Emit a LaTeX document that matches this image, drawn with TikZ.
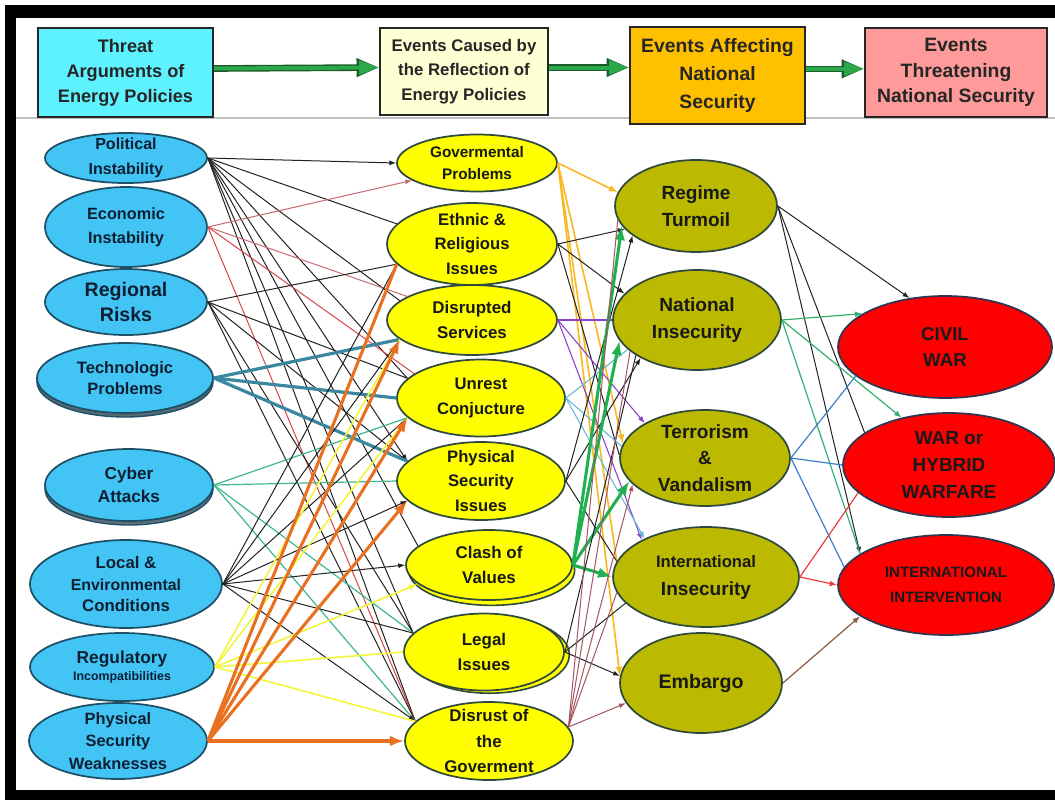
\documentclass[tikz,border=0pt]{standalone}
\usepackage{fontspec}
\setmainfont{Liberation Sans}
\usetikzlibrary{arrows.meta,shapes.geometric,backgrounds}
\definecolor{hcyan}{HTML}{5EF2FF}
\definecolor{hcream}{HTML}{FFFFD4}
\definecolor{horange}{HTML}{FFC000}
\definecolor{hpink}{HTML}{FF9A9A}
\definecolor{hgreen}{HTML}{2AA84A}
\definecolor{hdkgreen}{HTML}{1B5A2A}
\definecolor{lblue}{HTML}{42C5F4}
\definecolor{lrim}{HTML}{1D4F66}
\definecolor{ltext}{HTML}{0E1F33}
\definecolor{myellow}{HTML}{FFFF00}
\definecolor{mrim}{HTML}{2F4A3C}
\definecolor{folive}{HTML}{BCBA00}
\definecolor{fred}{HTML}{FF0000}
\definecolor{rrim}{HTML}{2E3550}
% connector colours
\definecolor{cblk}{HTML}{222222}
\definecolor{cred}{HTML}{D8424A}
\definecolor{cpink}{HTML}{C86A70}
\definecolor{cteal}{HTML}{3A87A0}
\definecolor{cmint}{HTML}{3DB88A}
\definecolor{cyel}{HTML}{F4F43A}
\definecolor{corg}{HTML}{E8701E}
\definecolor{cgold}{HTML}{F8B820}
\definecolor{cpurp}{HTML}{8A40C8}
\definecolor{csky}{HTML}{62B6D8}
\definecolor{cgrn}{HTML}{20B050}
\definecolor{cbrn}{HTML}{A45560}
\definecolor{csea}{HTML}{33B070}
\definecolor{cblu}{HTML}{3A80C8}
\definecolor{cscar}{HTML}{F03C3C}
\definecolor{cumb}{HTML}{8B5A3C}
\newcommand{\txtsize}[2]{\fontsize{#1}{#2}\selectfont\bfseries}
\tikzset{
  hdr/.style    = {draw=black!85, line width=1.2pt, rectangle, align=center,
                   inner sep=0pt, text=black!85},
  oval/.style   = {ellipse, line width=1.3pt, align=center,
                   inner xsep=0pt, inner ysep=-4pt},
  threat/.style = {oval, draw=lrim, fill=lblue, text=ltext},
  cause/.style  = {oval, draw=mrim, fill=myellow, text=black!90},
  affect/.style = {oval, draw=mrim, fill=folive, text=black!90},
  danger/.style = {oval, draw=rrim, fill=fred, text=black!90},
  harrow/.style = {line width=3pt, draw=hgreen,
                   -{Triangle[length=15pt,width=10pt]},
                   preaction={draw=hdkgreen, line width=5pt,
                              -{Triangle[length=17pt,width=13pt]}}},
  tip/.style    = {-{Latex[scale=0.8]}},
  blk/.style    = {draw=cblk, line width=0.75pt},
  redln/.style  = {draw=cred, line width=0.75pt},
  pinkln/.style = {draw=cpink, line width=0.75pt},
  tealln/.style = {draw=cteal, line width=2.4pt},
  mintln/.style = {draw=cmint, line width=0.9pt},
  yelln/.style  = {draw=cyel, line width=1.2pt},
  orgln/.style  = {draw=corg, line width=2.3pt},
  goldln/.style = {draw=cgold, line width=1.2pt},
  purpln/.style = {draw=cpurp, line width=0.8pt},
  skyln/.style  = {draw=csky, line width=0.8pt},
  grnln/.style  = {draw=cgrn, line width=2.3pt},
  brnln/.style  = {draw=cbrn, line width=0.75pt},
  sealn/.style  = {draw=csea, line width=0.9pt},
  bluln/.style  = {draw=cblu, line width=0.9pt},
  scarln/.style = {draw=cscar, line width=0.9pt},
  umbln/.style  = {draw=cumb, line width=0.9pt},
}
\begin{document}
\begin{tikzpicture}[x=0.75pt, y=-0.75pt]
\useasboundingbox (0,0) rectangle (1055,800);
% ---- frame ----
\fill[black] (5,5) rectangle (1055,18);
\fill[black] (5,5) rectangle (16,800);
\fill[black] (5,790) rectangle (1055,800);
\draw[gray!50, line width=0.8pt] (16,118) -- (1055,118);
% ---- header boxes ----
\node[hdr, fill=hcyan, minimum width=131.25pt, minimum height=66.75pt,
      font=\txtsize{13.6}{18.75}] (h1) at (125.5,72.5)
  {Threat\\Arguments of\\Energy Policies};
\node[hdr, fill=hcream, minimum width=126pt, minimum height=65.25pt,
      font=\txtsize{12.6}{18.5}] (h2) at (464,71.5)
  {Events Caused by\\the Reflection of\\Energy Policies};
\node[hdr, fill=horange, minimum width=131.25pt, minimum height=72.75pt,
      font=\txtsize{14.5}{21}] (h3) at (717.5,75.5)
  {Events Affecting\\National\\Security};
\node[hdr, fill=hpink, minimum width=136.5pt, minimum height=66.75pt,
      font=\txtsize{14.5}{19}] (h4) at (956,72.5)
  {Events\\Threatening\\National Security};
\draw[harrow] ([yshift=3pt]h1.east) -- ([yshift=3pt]h2.west);
\draw[harrow] ([yshift=3pt]h2.east) -- ([yshift=3pt]h2.east -| h3.west);
\draw[harrow] ([yshift=5pt]h3.east) -- ([yshift=5pt]h3.east -| h4.west);
% ---- threat arguments ----
\node[threat, minimum width=121.5pt, minimum height=37.5pt,
      font=\txtsize{12}{18.5}] (pol) at (126,158) {Political\\Instability};
\node[threat, minimum width=121.5pt, minimum height=60pt,
      font=\txtsize{12.2}{18}] (eco) at (126,227) {Economic\\Instability};
\node[threat, minimum width=121.5pt, minimum height=49.5pt,
      font=\txtsize{14.7}{18.75}] (reg) at (126,302) {Regional\\Risks};
\node[threat, minimum width=132pt, minimum height=52.5pt,
      font=\txtsize{12.4}{16}] (tec) at (125,378) {Technologic\\Problems};
\node[threat, minimum width=126pt, minimum height=54pt,
      font=\txtsize{12.9}{17}] (cyb) at (129,485) {Cyber\\Attacks};
\node[threat, minimum width=144pt, minimum height=66pt,
      font=\txtsize{12.6}{16}] (loc) at (126,584)
  {Local \&\\{\txtsize{11.9}{16}Environmental}\\Conditions};
\node[threat, minimum width=138pt, minimum height=51pt,
      font=\txtsize{13}{15}] (rgl) at (122,667)
  {Regulatory\\[-2pt]{\txtsize{9.3}{12}Incompatibilities}};
\node[threat, minimum width=133.5pt, minimum height=57pt,
      font=\txtsize{12.3}{17}] (phw) at (118,741)
  {Physical\\Security\\Weaknesses};
% ---- events caused ----
\node[cause, minimum width=120pt, minimum height=42.75pt,
      font=\txtsize{11.5}{17}] (gov) at (477,163) {Govermental\\Problems};
\node[cause, minimum width=127.5pt, minimum height=61.5pt,
      font=\txtsize{12.5}{18.4}] (eth) at (472,244) {Ethnic \&\\Religious\\Issues};
\node[cause, minimum width=127.5pt, minimum height=52.5pt,
      font=\txtsize{12.7}{18.5}] (dis) at (472,320) {Disrupted\\Services};
\node[cause, minimum width=126pt, minimum height=57.75pt,
      font=\txtsize{12.5}{19}] (unr) at (481,398) {Unrest\\Conjucture};
\node[cause, minimum width=126pt, minimum height=58.5pt,
      font=\txtsize{12.5}{18.4}] (psi) at (481,481) {Physical\\Security\\Issues};
\node[cause, minimum width=124.5pt, minimum height=52.5pt,
      font=\txtsize{12.7}{18.5}] (cla) at (489,565) {Clash of\\Values};
\node[cause, minimum width=120pt, minimum height=57.75pt,
      font=\txtsize{12.7}{19}] (leg) at (484,652) {Legal\\Issues};
\node[cause, minimum width=126pt, minimum height=58.5pt,
      font=\txtsize{12.7}{19}] (dgv) at (489,741) {Disrust of\\the\\Goverment};
% ---- events affecting ----
\node[affect, minimum width=121.5pt, minimum height=69pt,
      font=\txtsize{14.3}{20}] (rgm) at (696,206) {Regime\\Turmoil};
\node[affect, minimum width=126pt, minimum height=75pt,
      font=\txtsize{14.3}{20}] (nat) at (697,320) {National\\Insecurity};
\node[affect, minimum width=127.5pt, minimum height=72pt,
      font=\txtsize{14.3}{20}] (ter) at (705,458) {Terrorism\\\&\\Vandalism};
\node[affect, minimum width=139.5pt, minimum height=75pt,
      font=\txtsize{14.3}{21}] (int) at (706,577)
  {{\txtsize{12.5}{21}International}\\Insecurity};
\node[affect, minimum width=121.5pt, minimum height=75pt,
      font=\txtsize{14.7}{20}] (emb) at (701,683) {Embargo};
% ---- events threatening ----
\node[danger, minimum width=160.5pt, minimum height=76.5pt,
      font=\txtsize{14}{20}] (civ) at (945,347) {CIVIL\\WAR};
\node[danger, minimum width=159pt, minimum height=78pt,
      font=\txtsize{14.2}{20}] (war) at (949,465) {WAR or\\HYBRID\\WARFARE};
\node[danger, minimum width=162pt, minimum height=75pt,
      font=\txtsize{11.3}{18.5}] (iin) at (946,585) {INTERNATIONAL\\INTERVENTION};
% ---- shadows ----
\begin{scope}[on background layer]
  \draw[lrim, fill=lrim!45!gray, line width=1pt]
    ([yshift=-3pt]tec.center) ellipse (66pt and 26.25pt);
  \draw[lrim, fill=lrim!35!gray, line width=1pt]
    ([yshift=-3pt]cyb.center) ellipse (63pt and 27pt);
  \draw[mrim, fill=myellow, line width=1.2pt]
    ([xshift=2pt,yshift=-4pt]cla.center) ellipse (62.25pt and 26.25pt);
  \draw[mrim, fill=myellow, line width=1.2pt]
    ([xshift=4pt,yshift=-2pt]leg.center) ellipse (60pt and 28.9pt);
\end{scope}
% ---- threat arguments -> events caused ----
\draw[blk,tip] (pol.east) -- (gov.west);
\draw[blk,tip] (pol.east) -- (psi.165);
\foreach \t in {eth,dis,unr,cla,leg,dgv} \draw[blk] (pol.east) -- (\t.165);
\draw[pinkln,tip] (eco.east) -- (gov.195);
\draw[pinkln] (eco.east) -- (dis.160);
\draw[redln] (eco.east) -- (unr.160);
\draw[redln] (eco.east) -- (dgv.165);
\draw[blk] (reg.east) -- (eth.195);
\foreach \t in {unr,psi,leg,dgv} \draw[blk] (reg.east) -- (\t.165);
\foreach \t/\a in {dis/195,unr/180,psi/165} \draw[tealln] (tec.east) -- (\t.\a);
\foreach \t/\a in {unr/195,psi/180,leg/165,dgv/165} \draw[mintln] (cyb.east) -- (\t.\a);
\foreach \t/\a in {eth/195,dis/195,unr/195,leg/165} \draw[blk] (loc.east) -- (\t.\a);
\foreach \t/\a in {psi/195,cla/180,dgv/165} \draw[blk,tip] (loc.east) -- (\t.\a);
\foreach \t/\a in {dis/195,unr/195,leg/180,dgv/165} \draw[yelln] (rgl.east) -- (\t.\a);
\draw[yelln,tip] (rgl.east) -- (cla.195);
\draw[orgln] (phw.east) -- (eth.195);
\foreach \t/\a in {dis/195,unr/195,psi/195,dgv/180} \draw[orgln,tip] (phw.east) -- (\t.\a);
% ---- events caused -> events affecting ----
\draw[goldln,tip] (gov.east) -- (rgm.170);
\draw[goldln,tip] (gov.east) -- (ter.170);
\draw[goldln] (gov.east) -- (int.170);
\draw[goldln,tip] (gov.east) -- (emb.175);
\draw[blk,tip] (eth.east) -- (rgm.198);
\draw[blk,tip] (eth.east) -- (nat.160);
\draw[blk] (eth.east) -- (ter.178);
\draw[purpln] (dis.east) -- (nat.west);
\draw[purpln,tip] (dis.east) -- (ter.150);
\draw[purpln,tip] (dis.east) -- (int.150);
\draw[skyln] (unr.east) -- (nat.203);
\draw[skyln] (unr.east) -- (ter.172);
\draw[skyln,tip] (unr.east) -- (int.148);
\draw[blk,tip] (psi.east) -- (rgm.205);
\draw[blk,tip] (psi.east) -- (nat.214);
\draw[blk] (psi.east) -- (int.170);
\foreach \t/\a in {rgm/195,nat/195,ter/197,int/180} \draw[grnln,tip] (cla.east) -- (\t.\a);
\draw[blk] (leg.east) -- (nat.210);
\draw[blk] (leg.east) -- (int.198);
\draw[blk,tip] (leg.east) -- (emb.175);
\foreach \t/\a in {rgm/190,nat/205,int/190} \draw[brnln] (dgv.10) -- (\t.\a);
\draw[brnln,tip] (dgv.10) -- (ter.200);
\draw[brnln,tip] (dgv.10) -- (emb.195);
% ---- events affecting -> events threatening ----
\draw[blk,tip] (rgm.east) -- (civ.126);
\draw[blk] (rgm.east) -- (war.159);
\draw[blk,tip] (rgm.east) -- (iin.160);
\draw[sealn,tip] (nat.east) -- (civ.158);
\draw[sealn,tip] (nat.east) -- (war.135);
\draw[sealn] (nat.east) -- (iin.160);
\foreach \t/\a in {civ/198,war/180,iin/170} \draw[bluln] (ter.east) -- (\t.\a);
\draw[scarln] (int.east) -- (war.197);
\draw[scarln,tip] (int.east) -- (iin.west);
\draw[umbln,tip] (emb.east) -- (iin.200);
\end{tikzpicture}
\end{document}
